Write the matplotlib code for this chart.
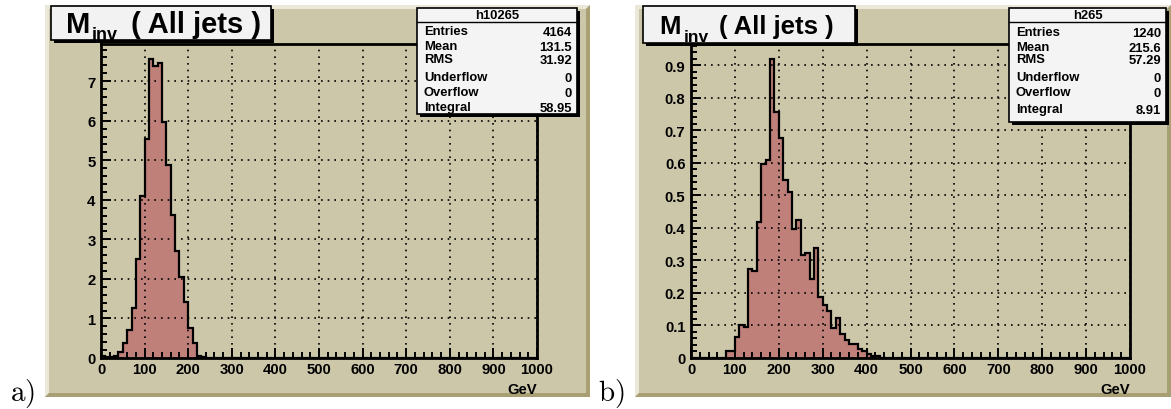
import numpy as np
import matplotlib
matplotlib.use("Agg")
import matplotlib.pyplot as plt
from matplotlib.patches import Rectangle, Polygon
from matplotlib.ticker import MultipleLocator

plt.rcParams['font.family'] = ['Liberation Sans', 'DejaVu Sans']
plt.rcParams['font.weight'] = 'bold'
plt.rcParams['mathtext.fontset'] = 'cm'

# histogram data, 10 GeV bins from 0 to 1000
bin_edges = np.arange(0, 1010, 10)
vals_a_start = 0
vals_a = [0.05, 0.02, 0.03, 0.05, 0.14, 0.38, 0.71, 1.27, 2.50, 4.09, 5.54, 7.56,
          7.38, 7.45, 5.96, 4.88, 3.62, 2.70, 2.05, 1.41, 0.77, 0.38, 0.05, 0.02]
vals_b_start = 8
vals_b = [0.023, 0.023, 0.064, 0.100, 0.094, 0.274, 0.267, 0.418, 0.596, 0.610,
          0.919, 0.755, 0.677, 0.546, 0.510, 0.395, 0.425, 0.317, 0.323, 0.243,
          0.339, 0.186, 0.164, 0.143, 0.093, 0.122, 0.073, 0.056, 0.043, 0.043,
          0.028, 0.020, 0.012, 0.005, 0.005]

stat_names = ['Entries', 'Mean', 'RMS', 'Underflow', 'Overflow', 'Integral']
stats_a = ['4164', '131.5', '31.92', '0', '0', '58.95']
stats_b = ['1240', '215.6', '57.29', '0', '0', '8.91']
hist_names = ['h10265', 'h265']
xticks = np.arange(0, 1100, 100)

W, H = 1171, 410
BEIGE = '#cdc7aa'
FILL = '#c0807a'

fig = plt.figure(figsize=(W / 100, H / 100), dpi=100)


def px_box(x0, y0, x1, y1):
    return [x0 / W, 1 - y1 / H, (x1 - x0) / W, (y1 - y0) / H]


# background layer (pixel coords)
bg = fig.add_axes([0, 0, 1, 1], zorder=0)
bg.set_xlim(0, W)
bg.set_ylim(H, 0)
bg.axis('off')


def canvas(x0, y0, x1, y1, b=4):
    bg.add_patch(Rectangle((x0, y0), x1 - x0, y1 - y0, color=BEIGE, lw=0))
    bg.add_patch(Polygon([(x0, y0), (x1, y0), (x1 - b, y0 + b), (x0 + b, y0 + b), (x0 + b, y1 - b), (x0, y1)],
                         closed=True, color='#ebe8da', lw=0))
    bg.add_patch(Polygon([(x1, y0), (x1, y1), (x0, y1), (x0 + b, y1 - b), (x1 - b, y1 - b), (x1 - b, y0 + b)],
                         closed=True, color='#a89f74', lw=0))


canvas(45, 6, 590, 398)
canvas(635, 6, 1171, 398)

panels = [
    dict(box=(101, 45, 537, 359), vals=vals_a, start=vals_a_start, ymax=7.94,
         major=1, minor=0.2, yfmt='{:.0f}', label='a)', lx=10),
    dict(box=(691, 45, 1130, 359), vals=vals_b, start=vals_b_start, ymax=0.965,
         major=0.1, minor=0.02, yfmt='{:.1f}', label='b)', lx=598),
]

for p in panels:
    ax = fig.add_axes(px_box(*p['box']), zorder=1)
    ax.set_facecolor('none')
    h = np.zeros(len(bin_edges) - 1)
    h[p['start']:p['start'] + len(p['vals'])] = p['vals']
    ax.stairs(h, bin_edges, fill=True, facecolor=FILL, edgecolor='none')
    ax.stairs(h, bin_edges, color='black', lw=1.6)
    ax.set_xlim(0, 1000)
    ax.set_ylim(0, p['ymax'])
    ax.set_xticks(xticks)
    ax.xaxis.set_minor_locator(MultipleLocator(20))
    ax.yaxis.set_minor_locator(MultipleLocator(p['minor']))
    yt = np.arange(0, p['ymax'], p['major'])
    ax.set_yticks(yt)
    ax.set_yticklabels([p['yfmt'].format(v) if v > 0 else '0' for v in yt])
    ax.tick_params(which='both', direction='in', width=1.4, top=False, right=False, labelsize=10.7)
    ax.tick_params(which='major', length=7)
    ax.tick_params(which='minor', length=4)
    ax.tick_params(axis='x', pad=3)
    ax.tick_params(axis='y', pad=4)
    ax.grid(True, which='major', ls=(0, (1, 3)), color='black', lw=1.2)
    for s in ax.spines.values():
        s.set_linewidth(2)
    ax.text(1.0, -0.075, 'GeV', transform=ax.transAxes, ha='right', va='top', fontsize=10.7)
    bg.text(p['lx'], 401, r'$\mathrm{' + p['label'] + '}$', fontsize=21, ha='left', va='baseline')

# overlay layer: titles and stats boxes
ov = fig.add_axes([0, 0, 1, 1], zorder=3)
ov.set_xlim(0, W)
ov.set_ylim(H, 0)
ov.axis('off')
ov.patch.set_alpha(0)


def shadow_box(x0, y0, x1, y1, fc='#f2f2f2', d=3):
    ov.add_patch(Rectangle((x0 + d, y0 + d), x1 - x0, y1 - y0, color='black', lw=0))
    ov.add_patch(Rectangle((x0, y0), x1 - x0, y1 - y0, facecolor=fc, edgecolor='black', lw=1.2))


# titles
shadow_box(51, 7, 271, 41)
ov.text(66, 33, 'M', fontsize=21, va='baseline')
ov.text(92, 40, 'inv', fontsize=13, va='baseline')
ov.text(131, 33, '( All jets )', fontsize=21, va='baseline')

shadow_box(643, 7, 855, 44)
ov.text(659, 34, 'M', fontsize=18.5, va='baseline')
ov.text(684, 42, 'inv', fontsize=12.5, va='baseline')
ov.text(719, 34, '( All jets )', fontsize=18.5, va='baseline')

# stats boxes
row_y = [[32, 47, 60, 78, 93, 108], [33, 48, 60, 78, 93, 110]]
sboxes = [(417, 9, 577, 115), (1009, 9, 1166, 123)]
for name, vals, (x0, y0, x1, y1), ry in zip(hist_names, [stats_a, stats_b], sboxes, row_y):
    shadow_box(x0, y0, x1, y1, fc='#f4f4f4')
    ov.plot([x0, x1], [y0 + 14, y0 + 14], color='black', lw=1)
    ov.text((x0 + x1) / 2, y0 + 7, name, fontsize=9.4, ha='center', va='center',
            family='Liberation Sans')
    for lab, v, y in zip(stat_names, vals, ry):
        ov.text(x0 + 7, y, lab, fontsize=9.4, ha='left', va='center', family='Liberation Sans')
        ov.text(x1 - 5, y + 1, v, fontsize=9.4, ha='right', va='center', family='Liberation Sans')

fig.savefig('out.png', dpi=100)
